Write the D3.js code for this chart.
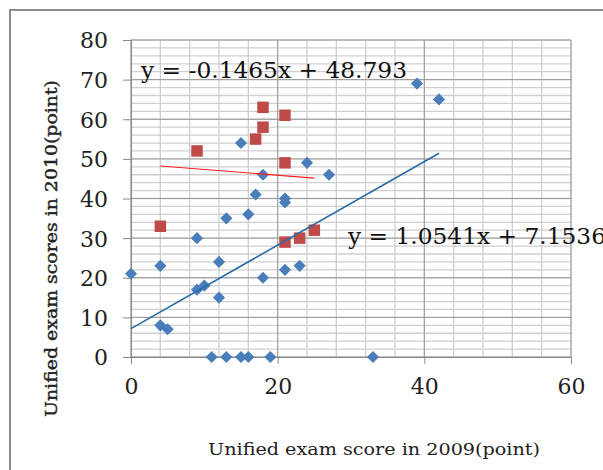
<!DOCTYPE html>
<html>
<head>
<meta charset="utf-8">
<script src="https://cdn.jsdelivr.net/npm/d3@7"></script>
<style>
  body { margin: 0; background: #fff; }
  svg { display: block; }
</style>
</head>
<body>
<script>
// 2009 vs 2010 unified exam scores, two groups
var blueX = [0, 4, 4, 5, 9, 9, 10, 12, 12, 13, 16, 11, 13, 15, 16, 19, 18, 21, 21, 21, 23, 15, 18, 17, 24, 27, 33, 39, 42];
var blueY = [21, 23, 8, 7, 30, 17, 18, 24, 15, 35, 36, 0, 0, 0, 0, 0, 20, 39, 40, 22, 23, 54, 46, 41, 49, 46, 0, 69, 65];
var redX = [4, 9, 17, 18, 18, 21, 21, 21, 23, 25];
var redY = [33, 52, 55, 58, 63, 61, 49, 29, 30, 32];

// trendline coefficients as printed on the chart: [slope, intercept, xFrom, xTo]
var blueTrend = [1.0541, 7.1536, 0, 42];
var redTrend = [-0.1465, 48.793, 4, 25];

var xTicks = [0, 20, 40, 60];
var yTicks = [0, 10, 20, 30, 40, 50, 60, 70, 80];

var width = 603, height = 470;
var margin = { left: 131, top: 40, right: 32, bottom: 113 };
var plotW = width - margin.left - margin.right,
  plotH = height - margin.top - margin.bottom;

var svg = d3.select("body").append("svg")
  .attr("width", width)
  .attr("height", height);

// outer frame
svg.append("rect")
  .attr("x", 10).attr("y", 10)
  .attr("width", 700).attr("height", 600)
  .attr("fill", "none")
  .attr("stroke", "#8c8c8c")
  .attr("stroke-width", 2);

var x = d3.scaleLinear().domain([0, 60]).range([0, plotW]);
var y = d3.scaleLinear().domain([0, 80]).range([plotH, 0]);

var g = svg.append("g")
  .attr("transform", "translate(" + margin.left + "," + margin.top + ")");

// minor grid
g.append("g").selectAll("line")
  .data(d3.range(0, 61, 4))
  .enter().append("line")
  .attr("x1", function (d) { return x(d); })
  .attr("x2", function (d) { return x(d); })
  .attr("y1", 0).attr("y2", plotH)
  .attr("stroke", "#cfcfcf").attr("stroke-width", 1.3);

g.append("g").selectAll("line")
  .data(d3.range(0, 81, 2))
  .enter().append("line")
  .attr("y1", function (d) { return y(d); })
  .attr("y2", function (d) { return y(d); })
  .attr("x1", 0).attr("x2", plotW)
  .attr("stroke", "#cfcfcf").attr("stroke-width", 1.3);

// major grid
g.append("g").selectAll("line")
  .data(xTicks)
  .enter().append("line")
  .attr("x1", function (d) { return x(d); })
  .attr("x2", function (d) { return x(d); })
  .attr("y1", 0).attr("y2", plotH)
  .attr("stroke", "#9a9a9a").attr("stroke-width", 1);

g.append("g").selectAll("line")
  .data(yTicks)
  .enter().append("line")
  .attr("y1", function (d) { return y(d); })
  .attr("y2", function (d) { return y(d); })
  .attr("x1", 0).attr("x2", plotW)
  .attr("stroke", "#9a9a9a").attr("stroke-width", 1);

// axes
var xAxis = g.append("g")
  .attr("transform", "translate(0," + plotH + ")")
  .call(d3.axisBottom(x).tickValues(xTicks).tickSize(7).tickPadding(14));
var yAxis = g.append("g")
  .call(d3.axisLeft(y).tickValues(yTicks).tickSize(8).tickPadding(15));

[xAxis, yAxis].forEach(function (a) {
  a.select(".domain").attr("stroke", "#888");
  a.selectAll(".tick line").attr("stroke", "#888");
  a.selectAll("text")
    .attr("fill", "#222")
    .style("font-family", "'DejaVu Serif', serif")
    .style("font-size", "22px");
});
yAxis.selectAll("text").attr("dy", "0.36em");
xAxis.selectAll("text").attr("dy", "0.72em");

// markers
var diamond = d3.symbol().type(d3.symbolSquare).size(74);
var square = d3.symbol().type(d3.symbolSquare).size(132);

g.append("g").selectAll("path")
  .data(blueX)
  .enter().append("path")
  .attr("d", diamond)
  .attr("transform", function (d, i) { return "translate(" + x(d) + "," + y(blueY[i]) + ") rotate(45)"; })
  .attr("fill", "#4a7ebb");

g.append("g").selectAll("path")
  .data(redX)
  .enter().append("path")
  .attr("d", square)
  .attr("transform", function (d, i) { return "translate(" + x(d) + "," + y(redY[i]) + ")"; })
  .attr("fill", "#be4b48");

// trendlines
function trendLine(t, color, w) {
  g.append("line")
    .attr("x1", x(t[2])).attr("y1", y(t[0] * t[2] + t[1]))
    .attr("x2", x(t[3])).attr("y2", y(t[0] * t[3] + t[1]))
    .attr("stroke", color).attr("stroke-width", w);
}
trendLine(blueTrend, "#2a6ca6", 1.6);
trendLine(redTrend, "#ff2020", 1.1);

// equation labels
var eqFont = "'DejaVu Serif', serif";
svg.append("text")
  .attr("x", 141).attr("y", 78)
  .attr("textLength", 266).attr("lengthAdjust", "spacingAndGlyphs")
  .style("font-family", eqFont).style("font-size", "22px").attr("fill", "#111")
  .text("y = -" + Math.abs(redTrend[0]) + "x + " + redTrend[1]);

svg.append("text")
  .attr("x", 348).attr("y", 244)
  .attr("textLength", 258).attr("lengthAdjust", "spacingAndGlyphs")
  .style("font-family", eqFont).style("font-size", "22px").attr("fill", "#111")
  .text("y = " + blueTrend[0] + "x + " + blueTrend[1]);

// axis titles
svg.append("text")
  .attr("x", 208).attr("y", 455)
  .attr("textLength", 332).attr("lengthAdjust", "spacingAndGlyphs")
  .style("font-family", eqFont).style("font-size", "17px").attr("fill", "#222")
  .text("Unified exam score in 2009(point)");

svg.append("text")
  .attr("transform", "translate(57,417) rotate(-90)")
  .attr("textLength", 337).attr("lengthAdjust", "spacingAndGlyphs")
  .style("font-family", eqFont).style("font-size", "17px")
  .attr("fill", "#222").attr("stroke", "#222").attr("stroke-width", 0.4)
  .text("Unified exam scores in 2010(point)");
</script>
</body>
</html>
